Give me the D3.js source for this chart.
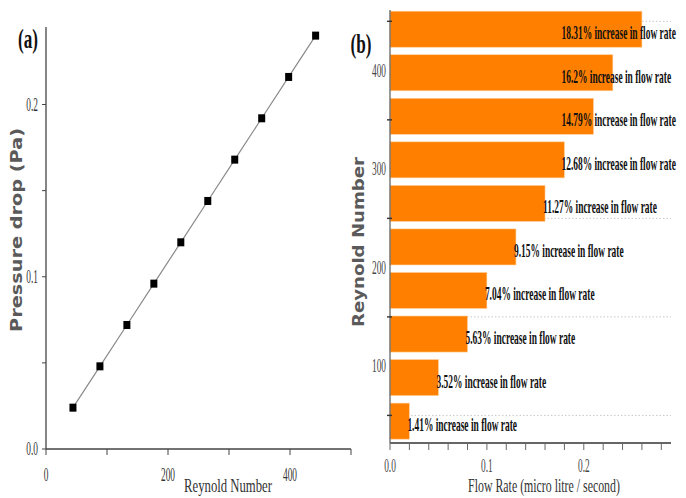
<!DOCTYPE html>
<html><head><meta charset="utf-8">
<script src="https://cdn.jsdelivr.net/npm/d3@7"></script>
<style>body{margin:0;background:#fff}svg{display:block}</style>
</head><body>
<svg id="c" width="686" height="498"></svg>
<script>
const reynolds = [44.2, 88.4, 132.6, 176.8, 221, 265.2, 309.4, 353.6, 397.8, 442];
const pressureDrop = [0.024, 0.048, 0.072, 0.096, 0.120, 0.144, 0.168, 0.192, 0.216, 0.240];
const flowRate = [0.02, 0.05, 0.08, 0.10, 0.13, 0.16, 0.18, 0.21, 0.23, 0.26];
const increasePct = ["1.41%", "3.52%", "5.63%", "7.04%", "9.15%", "11.27%", "12.68%", "14.79%", "16.2%", "18.31%"];
const aYTicks = [0, 0.1, 0.2], aYMinor = [0.05, 0.15];
const aXTicks = [0, 200, 400], aXMinor = [100, 300, 500];
const bXTicks = [0, 0.1, 0.2];
const bXMinor = [0,0.02,0.04,0.06,0.08,0.1,0.12,0.14,0.16,0.18,0.2,0.22,0.24,0.26,0.28];
const bYTicks = [100, 200, 300, 400], bYMinor = [50, 150, 250, 350, 450];

const svg = d3.select("#c");
const serif = "'Liberation Serif', 'DejaVu Serif', serif";
const sans = "'DejaVu Sans', 'Liberation Sans', sans-serif";

function place(sel, fx, fy, k, rot) {
  sel.each(function(d,i){
    const x = typeof fx === "function" ? fx(d,i) : fx;
    const y = typeof fy === "function" ? fy(d,i) : fy;
    d3.select(this).attr("transform", rot ? `translate(${x},${y}) rotate(-90) scale(${k},1)` : `translate(${x},${y}) scale(${k},1)`);
  });
}
function placeLen(sel, x, y, L, rot) {
  sel.each(function(){
    const w = this.getComputedTextLength();
    place(d3.select(this), x, y, L / w, rot);
  });
}

// ---------- Panel (a) ----------
const xa = d3.scaleLinear().domain([0, 500]).range([46, 351]);
const ya = d3.scaleLinear().domain([0, 0.245]).range([449, 27]);
const ga = svg.append("g");
const axisCol = "#444";

ga.append("line").attr("x1", xa(0)).attr("x2", xa(0)).attr("y1", ya(0.245)).attr("y2", ya(0)).attr("stroke", axisCol).attr("stroke-width", 1.3);
ga.append("line").attr("x1", xa(0)).attr("x2", xa(500)).attr("y1", ya(0)).attr("y2", ya(0)).attr("stroke", axisCol).attr("stroke-width", 1.6);
ga.selectAll(".ayt").data(aYTicks.concat(aYMinor)).join("line").attr("x1", xa(0)-4).attr("x2", xa(0)).attr("y1", d=>ya(d)).attr("y2", d=>ya(d)).attr("stroke", axisCol);
ga.selectAll(".axt").data(aXTicks.concat(aXMinor)).join("line").attr("x1", d=>xa(d)).attr("x2", d=>xa(d)).attr("y1", ya(0)).attr("y2", ya(0)+6).attr("stroke", axisCol);
ga.selectAll(".ayl").data(aYTicks).join("text")
  .attr("text-anchor","end").attr("font-family", serif).attr("font-size", 18).attr("fill","#333").text(d=>d3.format(".1f")(d))
  .call(place, xa(0)-8, d=>ya(d)+6, 0.52);
ga.selectAll(".axl").data(aXTicks).join("text")
  .attr("text-anchor","middle").attr("font-family", serif).attr("font-size", 18).attr("fill","#333").text(d=>d)
  .call(place, d=>xa(d), 481, 0.52);

const line = d3.line().x((d,i)=>xa(reynolds[i])).y(d=>ya(d));
ga.append("path").datum(pressureDrop).attr("d", line).attr("fill","none").attr("stroke","#8a8a8a").attr("stroke-width",1.2);
ga.selectAll(".pt").data(pressureDrop).join("rect")
  .attr("x",(d,i)=>xa(reynolds[i])-3.5).attr("y",d=>ya(d)-4).attr("width",7).attr("height",8).attr("fill","#000");

ga.append("text").attr("text-anchor","middle")
  .attr("font-family", sans).attr("font-weight","bold").attr("font-size",15).attr("fill","#5a5a5a")
  .text("Pressure drop (Pa)").call(placeLen, 22, 230, 204, true);
ga.append("text").attr("text-anchor","middle").attr("font-family", serif)
  .attr("font-size",19).attr("fill","#333").text("Reynold Number").call(placeLen, 228, 492, 88);
ga.append("text").attr("text-anchor","middle").attr("font-family", serif)
  .attr("font-weight","bold").attr("font-size",27).attr("fill","#111").text("(a)").call(placeLen, 28, 48, 20);

// ---------- Panel (b) ----------
const xb = d3.scaleLinear().domain([0, 0.29]).range([390, 671]);
const yb = d3.scaleLinear().domain([22, 461.5]).range([443, 10]);
const gb = svg.append("g");

gb.selectAll(".grid").data(bYMinor).join("line").attr("x1", xb(0)).attr("x2", xb(0.29)).attr("y1", d=>yb(d)).attr("y2", d=>yb(d))
  .attr("stroke","#c8c8c8").attr("stroke-dasharray","1.5,2");

const half = 18.3;
gb.selectAll(".bar").data(flowRate).join("rect")
  .attr("x", xb(0)).attr("y",(d,i)=>yb(reynolds[i]+half)).attr("width", d=>xb(d)-xb(0))
  .attr("height",(d,i)=>yb(reynolds[i]-half)-yb(reynolds[i]+half))
  .attr("fill","#FF8000").attr("stroke","#ffd0a0").attr("stroke-width",0.6);

gb.append("line").attr("x1", xb(0)).attr("x2", xb(0)).attr("y1", yb(461.5)).attr("y2", yb(22)).attr("stroke","#666").attr("stroke-width",1.3);
gb.append("line").attr("x1", xb(0)).attr("x2", xb(0.29)).attr("y1", yb(22)).attr("y2", yb(22)).attr("stroke","#666").attr("stroke-width",2);
gb.selectAll(".bxt").data(bXMinor).join("line").attr("x1", d=>xb(d)).attr("x2", d=>xb(d)).attr("y1", yb(22)).attr("y2", yb(22)+7).attr("stroke","#666");
gb.selectAll(".byt").data(bYMinor).join("line").attr("x1", xb(0)-3).attr("x2", xb(0)+2).attr("y1", d=>yb(d)).attr("y2", d=>yb(d)).attr("stroke","#333").attr("stroke-width",1.4);

gb.selectAll(".bxl").data(bXTicks).join("text")
  .attr("text-anchor","middle").attr("font-family", serif).attr("font-size", 18).attr("fill","#444").text(d=>d3.format(".1f")(d))
  .call(place, d=>xb(d), 472, 0.52);
gb.selectAll(".byl").data(bYTicks).join("text")
  .attr("text-anchor","end").attr("font-family", serif).attr("font-size", 18).attr("fill","#444").text(d=>d)
  .call(place, 386, d=>yb(d)+6, 0.52);

gb.selectAll(".lab").data(flowRate).join("text")
  .attr("font-family", serif).attr("font-weight","bold").attr("font-size",18).attr("fill","#111")
  .text((d,i)=>increasePct[i]+" increase in flow rate")
  .call(place, d=>Math.min(xb(d), xb(0.179))-2, (d,i)=>yb(reynolds[i])+10, 0.525);

gb.append("text").attr("text-anchor","middle")
  .attr("font-family", sans).attr("font-weight","bold").attr("font-size",15).attr("fill","#5a5a5a")
  .text("Reynold Number").call(placeLen, 364, 242, 170, true);
gb.append("text").attr("text-anchor","middle").attr("font-family", serif)
  .attr("font-size",19).attr("fill","#333").text("Flow Rate (micro litre / second)").call(placeLen, 544, 492, 152);
gb.append("text").attr("text-anchor","middle").attr("font-family", serif)
  .attr("font-weight","bold").attr("font-size",27).attr("fill","#111").text("(b)").call(placeLen, 361, 53, 21);
</script>
</body></html>
